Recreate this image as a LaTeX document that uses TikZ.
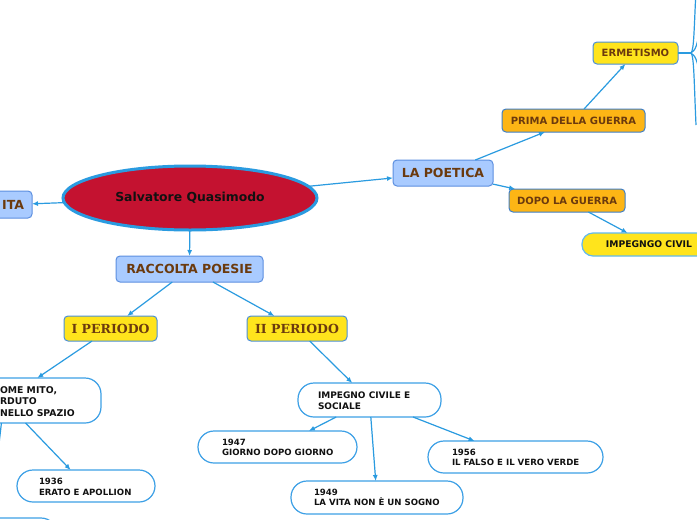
\documentclass[tikz,border=0pt]{standalone}
\usepackage{fontspec}
\setmainfont{DejaVu Sans}
\newfontfamily\serifbold{DejaVu Serif}
\usetikzlibrary{arrows.meta,shapes.geometric}
\definecolor{connc}{HTML}{2A9BE0}
\definecolor{crim}{HTML}{C41230}
\definecolor{lblue}{HTML}{A9CBFF}
\definecolor{lbluebd}{HTML}{5C8FE0}
\definecolor{yel}{HTML}{FFE41C}
\definecolor{yelbd}{HTML}{4A8FD8}
\definecolor{org}{HTML}{FDB515}
\definecolor{orgbd}{HTML}{3D7FC9}
\definecolor{brn}{HTML}{6B3A0E}
\definecolor{wbd}{HTML}{3DA0E6}
\definecolor{impbd}{HTML}{62B9EE}
\definecolor{txtdark}{HTML}{111111}
\tikzset{
  base/.style={inner sep=0pt, outer sep=0pt},
  bluebox/.style={base, draw=lbluebd, fill=lblue, rounded corners=4pt, line width=1pt, text=brn,
    font=\fontsize{12.5}{14}\selectfont\bfseries},
  perbox/.style={base, draw=yelbd, fill=yel, rounded corners=4pt, line width=1pt, text=brn,
    font=\serifbold\fontsize{12.5}{14}\selectfont\bfseries},
  yelbox/.style={base, draw=yelbd, fill=yel, rounded corners=4pt, line width=1pt, text=brn,
    font=\fontsize{10}{12}\selectfont\bfseries},
  orgbox/.style={base, draw=orgbd, fill=org, rounded corners=4pt, line width=1pt, text=brn,
    font=\fontsize{10}{12}\selectfont\bfseries},
  wbox/.style={base, draw=wbd, fill=white, rounded corners=16pt, line width=1.2pt},
  wtext/.style={base, anchor=west, align=left, text=txtdark,
    font=\fontsize{8.6}{10.5}\selectfont\bfseries},
  conn/.style={draw=connc, line width=1.2pt, -{Latex[length=6pt,width=5pt]}},
  fanline/.style={draw=connc, line width=1.2pt},
}
\begin{document}
\begin{tikzpicture}[x=1pt,y=-1pt]
\useasboundingbox (0,0) rectangle (697,520);
\clip (0,0) rectangle (697,520);
\fill[white] (0,0) rectangle (697,520);

% central ellipse
\node[base, ellipse, draw=connc, fill=crim, line width=3pt, minimum width=254pt, minimum height=64pt,
  text=txtdark, font=\fontsize{12.4}{14}\selectfont\bfseries] (sq) at (190,198) {Salvatore Quasimodo};

% blue boxes
\node[bluebox, anchor=east, inner xsep=8pt, minimum height=27pt] (vita) at (32,204.5) {ITA};
\node[bluebox, minimum width=147pt, minimum height=26pt] (rp) at (189.5,269) {RACCOLTA POESIE};
\node[bluebox, minimum width=100pt, minimum height=26pt] (lp) at (443,173) {LA POETICA};

% periodi
\node[perbox, minimum width=93pt, minimum height=25pt] (ip1) at (110.5,328.5) {I PERIODO};
\node[perbox, minimum width=100pt, minimum height=25pt] (ip2) at (297,328.5) {II PERIODO};

% poetica branch
\node[orgbox, minimum width=143pt, minimum height=23pt] (pg) at (573.5,120.5) {PRIMA DELLA GUERRA};
\node[orgbox, minimum width=116pt, minimum height=23pt] (dg) at (567,200.5) {DOPO LA GUERRA};
\node[yelbox, minimum width=85pt, minimum height=22pt] (erm) at (635.5,53) {ERMETISMO};
\node[base, draw=impbd, fill=yel, rounded corners=11pt, line width=1.2pt, minimum width=134pt, minimum height=23pt,
  text=txtdark, font=\fontsize{9.2}{11}\selectfont\bfseries] (imp) at (649,244.5) {IMPEGNGO CIVIL};

% white boxes
\node[wbox, minimum width=194pt, minimum height=45pt] (cm) at (4,400.5) {};
\node[wtext, font=\fontsize{9.3}{11.5}\selectfont\bfseries] (cmt) at (0,401.5) {OME MITO,\\RDUTO\\NELLO SPAZIO};
\node[wbox, minimum width=138pt, minimum height=32pt] (e36) at (86,486) {};
\node[wtext] (e36t) at (39,487) {1936\\ERATO E APOLLION};
\node[wbox, minimum width=138pt, minimum height=44pt] (bl) at (-12,540) {};
\node[wbox, minimum width=143pt, minimum height=34pt] (ics) at (369.5,400) {};
\node[wtext, font=\fontsize{9}{11}\selectfont\bfseries] (icst) at (318,400.5) {IMPEGNO CIVILE E\\SOCIALE};
\node[wbox, minimum width=159pt, minimum height=32pt] (e47) at (277.5,447) {};
\node[wtext] (e47t) at (222,447.5) {1947\\GIORNO DOPO GIORNO};
\node[wbox, minimum width=175pt, minimum height=32pt] (e56) at (515.5,457) {};
\node[wtext] (e56t) at (452,457.5) {1956\\IL FALSO E IL VERO VERDE};
\node[wbox, minimum width=172pt, minimum height=33pt] (e49) at (377,497.5) {};
\node[wtext] (e49t) at (314,497.5) {1949\\LA VITA NON È UN SOGNO};

% connectors
\draw[conn] (sq) -- (vita);
\draw[conn] (sq) -- (rp);
\draw[conn] (sq) -- (lp);
\draw[conn] (rp) -- (ip1);
\draw[conn] (rp) -- (ip2);
\draw[conn] (ip1) -- (cm);
\draw[conn] (cm) -- (e36);
\draw[conn] (cm) -- (bl);
\draw[conn] (ip2) -- (ics);
\draw[conn] (ics) -- (e47);
\draw[conn] (ics) -- (e49);
\draw[conn] (ics) -- (e56);
\draw[conn] (lp) -- (pg);
\draw[conn] (lp) -- (dg);
\draw[conn] (pg) -- (erm);
\draw[conn] (dg) -- (imp);

% fan from ERMETISMO
\coordinate (fj) at (691,53);
\coordinate (f1) at (696,-10);
\coordinate (f2) at (702,22);
\coordinate (f3) at (702,82);
\coordinate (f4) at (696,125);
\draw[fanline] (erm.east) -- (fj);
\draw[fanline] (fj) .. controls (694,50) and (694,30) .. (f1);
\draw[fanline] (fj) .. controls (696,49) .. (f2);
\draw[fanline] (fj) .. controls (696,57) .. (f3);
\draw[fanline] (fj) .. controls (694,56) and (694,80) .. (f4);
\end{tikzpicture}
\end{document}
